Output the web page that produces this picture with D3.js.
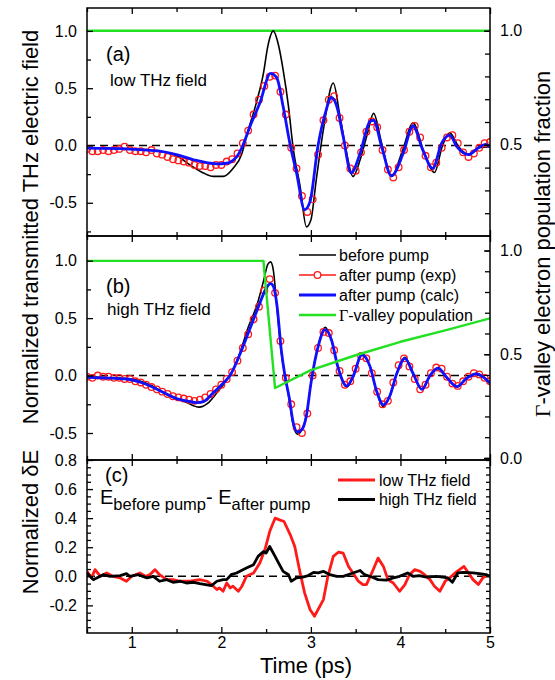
<!DOCTYPE html>
<html>
<head>
<meta charset="utf-8">
<script src="https://cdn.jsdelivr.net/npm/d3@7"></script>
<style>
  html, body { margin: 0; padding: 0; background: #fff; }
  svg { display: block; font-family: "Liberation Sans", Arial, sans-serif; }
</style>
</head>
<body>
<div id="chart"></div>
<script>
// ---- data (time in ps) ----
var timeTicks = [1, 2, 3, 4, 5];
var timeMinor = [0.5, 1.5, 2.5, 3.5, 4.5];

// sampling times of the measured (circle) traces
var tExp = [0.50,0.56,0.62,0.68,0.74,0.80,0.86,0.92,0.98,1.04,1.10,1.16,1.22,1.28,1.34,1.40,1.46,1.52,1.58,1.64,
  1.70,1.76,1.82,1.88,1.94,2.00,2.06,2.12,2.18,2.24,2.30,2.36,2.42,2.48,2.54,2.60,2.66,2.72,2.78,2.84,
  2.90,2.96,3.02,3.08,3.14,3.20,3.26,3.32,3.38,3.44,3.50,3.56,3.62,3.68,3.74,3.80,3.86,3.92,3.98,4.04,
  4.10,4.16,4.22,4.28,4.34,4.40,4.46,4.52,4.58,4.64,4.70,4.76,4.82,4.88,4.94,5.00];

// (a) low THz field
var beforeA = [[0.5,-0.02],[1.0,-0.03],[1.3,-0.05],[1.5,-0.09],[1.65,-0.17],[1.8,-0.24],[1.91,-0.27],[2.02,-0.27],
  [2.13,-0.2],[2.23,-0.07],[2.28,0.08],[2.39,0.37],[2.47,0.63],[2.52,0.87],[2.58,1.0],[2.64,0.87],[2.69,0.66],
  [2.75,0.34],[2.8,-0.01],[2.88,-0.36],[2.95,-0.71],[3.0,-0.65],[3.06,-0.3],[3.14,0.14],[3.25,0.545],[3.32,0.28],
  [3.4,-0.07],[3.47,-0.27],[3.55,-0.125],[3.63,0.1],[3.7,0.28],[3.79,0.02],[3.9,-0.27],[4.02,-0.05],[4.14,0.195],
  [4.26,-0.05],[4.38,-0.236],[4.47,0.0],[4.55,0.11],[4.65,-0.01],[4.76,-0.08],[4.88,-0.02],[5.0,-0.01]];
var expA = [-0.03,-0.05,-0.05,-0.04,-0.05,-0.04,-0.03,-0.01,-0.04,-0.05,-0.05,-0.06,-0.04,-0.07,-0.08,-0.10,-0.12,-0.13,-0.14,-0.15,
  -0.17,-0.18,-0.18,-0.19,-0.17,-0.17,-0.14,-0.12,-0.07,0.02,0.13,0.27,0.40,0.52,0.60,0.61,0.47,0.27,-0.02,-0.20,
  -0.44,-0.58,-0.47,-0.08,0.22,0.40,0.43,0.24,0.00,-0.20,-0.22,-0.06,0.12,0.21,0.16,-0.04,-0.21,-0.28,-0.19,-0.04,
  0.12,0.17,0.07,-0.09,-0.19,-0.15,-0.02,0.07,0.09,0.02,-0.06,-0.10,-0.07,-0.02,0.02,0.03];
var calcA = [[0.5,-0.023],[0.94,-0.03],[1.31,-0.05],[1.5,-0.08],[1.69,-0.125],[1.95,-0.16],[2.06,-0.155],[2.17,-0.1],
  [2.24,0],[2.32,0.166],[2.43,0.37],[2.55,0.63],[2.62,0.59],[2.69,0.34],[2.77,0],[2.84,-0.24],[2.93,-0.56],[2.99,-0.49],
  [3.08,0],[3.16,0.28],[3.23,0.42],[3.29,0.34],[3.36,0.08],[3.45,-0.24],[3.55,-0.067],[3.66,0.21],[3.7,0.22],[3.79,-0.01],
  [3.9,-0.265],[4.03,-0.07],[4.14,0.17],[4.25,-0.04],[4.36,-0.2],[4.46,0.02],[4.55,0.09],[4.63,-0.01],[4.76,-0.08],
  [4.87,-0.02],[4.95,0.01],[5.0,-0.015]];
var popA = [[0.5,1.0],[5.0,1.0]];

// (b) high THz field
var beforeB = [[0.5,-0.01],[0.8,-0.02],[1.0,-0.03],[1.2,-0.08],[1.4,-0.17],[1.6,-0.23],[1.75,-0.275],[1.85,-0.24],
  [1.95,-0.15],[2.05,-0.05],[2.12,0.03],[2.2,0.18],[2.3,0.42],[2.4,0.62],[2.47,0.82],[2.52,0.97],[2.55,0.99],[2.58,0.92],
  [2.62,0.6],[2.67,0.2],[2.71,0.0],[2.76,-0.22],[2.8,-0.42],[2.85,-0.51],[2.9,-0.47],[2.95,-0.35],[3.0,-0.07],[3.08,0.25],
  [3.16,0.42],[3.23,0.31],[3.3,0.08],[3.4,-0.1],[3.47,-0.01],[3.57,0.19],[3.66,0.08],[3.73,-0.13],[3.81,-0.27],[3.88,-0.18],
  [3.96,0.02],[4.05,0.16],[4.14,0.02],[4.24,-0.12],[4.33,0],[4.42,0.07],[4.51,-0.01],[4.63,-0.1],[4.74,-0.02],[4.85,0.02],
  [4.94,-0.02],[5.0,-0.06]];
var expB = [-0.01,-0.02,0.00,-0.01,-0.01,-0.02,-0.02,-0.03,-0.03,-0.05,-0.06,-0.08,-0.10,-0.12,-0.14,-0.16,-0.18,-0.19,-0.20,-0.21,
  -0.22,-0.21,-0.19,-0.16,-0.12,-0.08,-0.03,0.03,0.13,0.24,0.36,0.49,0.60,0.74,0.84,0.72,0.30,-0.02,-0.25,-0.45,
  -0.50,-0.33,0.00,0.24,0.38,0.37,0.22,0.04,-0.08,-0.05,0.06,0.17,0.15,0.02,-0.14,-0.25,-0.22,-0.06,0.09,0.15,
  0.08,-0.03,-0.12,-0.08,0.02,0.07,0.06,-0.01,-0.07,-0.09,-0.05,-0.01,0.02,0.01,-0.02,-0.05];
var calcB = [[0.5,-0.015],[0.76,-0.023],[0.94,-0.03],[1.13,-0.067],[1.31,-0.13],[1.5,-0.2],[1.61,-0.22],[1.72,-0.235],
  [1.8,-0.226],[1.91,-0.15],[2.02,-0.067],[2.1,0.006],[2.21,0.19],[2.32,0.41],[2.43,0.63],[2.49,0.745],[2.55,0.8],
  [2.58,0.78],[2.62,0.62],[2.67,0.22],[2.71,0.0],[2.76,-0.2],[2.8,-0.4],[2.85,-0.49],[2.9,-0.47],[2.95,-0.35],[3.0,-0.07],
  [3.08,0.25],[3.16,0.4],[3.23,0.31],[3.3,0.08],[3.4,-0.09],[3.47,-0.01],[3.57,0.18],[3.66,0.08],[3.73,-0.125],
  [3.81,-0.255],[3.88,-0.18],[3.96,0.02],[4.05,0.15],[4.14,0.02],[4.24,-0.12],[4.33,0],[4.42,0.064],[4.51,-0.01],
  [4.63,-0.096],[4.74,-0.023],[4.85,0.015],[4.94,-0.023],[5.0,-0.067]];
var popB = [[0.5,0.95],[2.47,0.95],[2.6,0.337],[3.0,0.423],[3.5,0.495],[4.0,0.56],[4.5,0.615],[5.0,0.673]];

// (c) difference signals
var diffLow = [[0.5,0.034],[0.55,-0.011],[0.59,0.046],[0.65,0],[0.72,0.023],[0.79,0],[0.87,-0.011],[0.94,-0.034],
  [1.0,0],[1.09,0.023],[1.15,0],[1.2,0.011],[1.26,0.046],[1.31,0.011],[1.39,-0.023],[1.46,-0.023],[1.54,-0.034],
  [1.65,-0.034],[1.76,-0.023],[1.84,-0.034],[1.89,-0.057],[1.95,-0.091],[1.98,-0.08],[2.02,-0.103],[2.06,-0.046],
  [2.1,-0.08],[2.13,-0.068],[2.19,-0.103],[2.23,-0.068],[2.28,0],[2.36,0.023],[2.43,0.091],[2.49,0.19],[2.54,0.308],
  [2.6,0.4],[2.65,0.388],[2.7,0.377],[2.77,0.285],[2.82,0.205],[2.88,0.023],[2.93,-0.114],[2.99,-0.228],[3.04,-0.275],
  [3.14,-0.16],[3.19,0],[3.25,0.137],[3.31,0.167],[3.36,0.16],[3.42,0.068],[3.47,0.023],[3.53,-0.034],[3.58,-0.057],
  [3.62,-0.057],[3.68,0.023],[3.75,0.125],[3.81,0.068],[3.86,-0.023],[3.92,-0.046],[3.99,-0.103],[4.05,-0.057],
  [4.1,0.011],[4.16,0.046],[4.22,0.034],[4.27,0.011],[4.33,-0.023],[4.38,-0.068],[4.44,-0.103],[4.5,-0.034],
  [4.55,-0.011],[4.61,0.023],[4.66,0.046],[4.71,0.068],[4.76,0.023],[4.81,-0.023],[4.87,-0.057],[4.92,-0.011],[4.98,0.011]];
var diffHigh = [[0.5,0.023],[0.57,-0.023],[0.68,0.011],[0.76,0],[0.87,0.005],[0.94,0.018],[0.98,0],[1.07,0.011],
  [1.17,-0.011],[1.24,0],[1.31,-0.034],[1.39,-0.023],[1.46,-0.041],[1.54,-0.034],[1.61,-0.046],[1.69,-0.041],
  [1.76,-0.05],[1.84,-0.059],[1.89,-0.064],[1.95,-0.034],[2.02,-0.023],[2.06,-0.023],[2.11,0.011],[2.17,0.023],
  [2.28,0.057],[2.36,0.08],[2.41,0.137],[2.47,0.17],[2.5,0.16],[2.54,0.205],[2.6,0.137],[2.64,0.091],[2.69,0.034],
  [2.75,0.011],[2.78,-0.034],[2.84,-0.011],[2.91,-0.005],[2.97,0.005],[3.03,0.027],[3.08,0.023],[3.14,0.034],
  [3.21,0.011],[3.29,0],[3.36,0],[3.47,0.023],[3.55,0.04],[3.6,0.011],[3.68,-0.005],[3.75,-0.023],[3.84,-0.027],
  [3.92,-0.011],[3.99,0],[4.08,0.023],[4.14,0],[4.21,0.005],[4.29,-0.005],[4.4,0],[4.47,-0.005],[4.53,-0.011],
  [4.58,-0.041],[4.64,0.023],[4.7,0.027],[4.81,0.023],[4.88,0.018],[4.96,0.011],[5.0,0]];

// axis tick values
var fieldMajor = [-0.5, 0, 0.5, 1.0];
var fieldMinor = [-0.75, -0.25, 0.25, 0.75];
var popTicksA = [0.2, 0.3, 0.4, 0.5, 0.6, 0.7, 0.8, 0.9, 1.0];
var popLabelsA = [0.5, 1.0];
var popTicksB = [0, 0.1, 0.2, 0.3, 0.4, 0.5, 0.6, 0.7, 0.8, 0.9, 1.0];
var popLabelsB = [0, 0.5, 1.0];
var diffMajor = [-0.2, 0, 0.2, 0.4, 0.6, 0.8];
var diffMinor = [-0.35,-0.3,-0.25,-0.15,-0.1,-0.05,0.05,0.1,0.15,0.25,0.3,0.35,0.45,0.5,0.55,0.65,0.7,0.75];

// ---- layout ----
var W = 555, H = 680;
var L = 87, R = 490;
var FONT = '"Liberation Sans", Arial, sans-serif';
var RED = '#ff1a1a', BLUE = '#1010ff', GREEN = '#22e022';

var svg = d3.select('#chart').append('svg').attr('width', W).attr('height', H);

var x = d3.scaleLinear().domain([0.5, 5]).range([L, R]);
var yA = d3.scaleLinear().domain([-0.79, 1.2]).range([236, 8]);
var yA2 = d3.scaleLinear().domain([0.1, 1.1]).range([236, 8]);
var yB = d3.scaleLinear().domain([-0.735, 1.215]).range([460, 236]);
var yB2 = d3.scaleLinear().domain([-0.01, 1.07]).range([460, 236]);
var yC = d3.scaleLinear().domain([-0.39, 0.8]).range([633, 460]);

var fmt1 = function (v) { return v.toFixed(1); };

function axis(gen, tx, ty, vals, size, labels, pad) {
  var g = svg.append('g').attr('transform', 'translate(' + tx + ',' + ty + ')')
    .call(gen.tickValues(vals).tickSize(size).tickSizeOuter(0).tickPadding(pad || 10)
      .tickFormat(labels ? labels : function () { return ''; }));
  g.select('.domain').remove();
  g.attr('font-family', FONT).attr('font-size', 16);
  g.selectAll('line').attr('stroke', '#000').attr('stroke-width', 1.3);
  g.selectAll('text').attr('fill', '#000');
  return g;
}

function panelFrame(top, bottom, y, majors, minors, y2, y2ticks, y2labels, y2minorSize, xLabels) {
  axis(d3.axisTop(x), 0, top, timeTicks, -6, null);
  axis(d3.axisTop(x), 0, top, timeMinor, -4, null);
  axis(d3.axisBottom(x), 0, bottom, timeTicks, -6, xLabels ? d3.format('d') : null, 4);
  axis(d3.axisBottom(x), 0, bottom, timeMinor, -4, null);
  axis(d3.axisLeft(y), L, 0, majors, -6, fmt1);
  axis(d3.axisLeft(y), L, 0, minors, -4, null);
  axis(d3.axisRight(y2), R, 0, y2ticks, -y2minorSize, null);
  if (y2labels) axis(d3.axisRight(y2), R, 0, y2labels, -6, fmt1);
  svg.append('rect').attr('x', L).attr('y', top).attr('width', R - L).attr('height', bottom - top)
    .attr('fill', 'none').attr('stroke', '#000').attr('stroke-width', 1.5);
}

function clip(id, top, bottom) {
  svg.append('clipPath').attr('id', id).append('rect')
    .attr('x', L).attr('y', top).attr('width', R - L).attr('height', bottom - top);
  return svg.append('g').attr('clip-path', 'url(#' + id + ')');
}

function zeroLine(g, y) {
  g.append('line').attr('x1', L).attr('x2', R).attr('y1', y(0)).attr('y2', y(0))
    .attr('stroke', '#000').attr('stroke-width', 1.5).attr('stroke-dasharray', '8,5');
}

function path(g, data, y, color, width, curve) {
  var line = d3.line().x(function (d) { return x(d[0]); }).y(function (d) { return y(d[1]); })
    .curve(curve || d3.curveLinear);
  g.append('path').datum(data).attr('d', line).attr('fill', 'none')
    .attr('stroke', color).attr('stroke-width', width).attr('stroke-linejoin', 'round');
}

function circles(g, vals, y) {
  g.selectAll(null).data(vals).join('circle')
    .attr('cx', function (d, i) { return x(tExp[i]); })
    .attr('cy', function (d) { return y(d); })
    .attr('r', 3.3).attr('fill', 'none').attr('stroke', RED).attr('stroke-width', 1.3);
}

// ---- panel (a) ----
var gA = clip('clipA', 8, 236);
zeroLine(gA, yA);
path(gA, popA, yA2, GREEN, 2.4);
path(gA, beforeA, yA, '#000', 1.6, d3.curveMonotoneX);
circles(gA, expA, yA);
path(gA, calcA, yA, BLUE, 2.8, d3.curveMonotoneX);
panelFrame(8, 236, yA, fieldMajor, fieldMinor, yA2, popTicksA, popLabelsA, 5, false);

// ---- panel (b) ----
var gB = clip('clipB', 236, 460);
zeroLine(gB, yB);
path(gB, beforeB, yB, '#000', 1.6, d3.curveMonotoneX);
circles(gB, expB, yB);
path(gB, calcB, yB, BLUE, 2.8, d3.curveMonotoneX);
path(gB, popB, yB2, GREEN, 2.4, d3.curveLinear);
panelFrame(236, 460, yB, fieldMajor, fieldMinor.filter(function (v) { return v > -0.7; }), yB2, popTicksB, popLabelsB, 5, false);

// ---- panel (c) ----
var gC = clip('clipC', 460, 633);
zeroLine(gC, yC);
path(gC, diffLow, yC, RED, 2.8);
path(gC, diffHigh, yC, '#000', 2.8);
panelFrame(460, 633, yC, diffMajor, diffMinor, yC, diffMinor.concat(diffMajor), null, 4, true);

// ---- text ----
function txt(xp, yp, s, size, anchor) {
  return svg.append('text').attr('x', xp).attr('y', yp).attr('font-family', FONT)
    .attr('font-size', size).attr('text-anchor', anchor || 'start').attr('fill', '#000').text(s);
}

txt(106, 61, '(a)', 20);
txt(110, 86, 'low THz field', 17);
txt(106, 293, '(b)', 20);
txt(107, 315, 'high THz field', 17);
txt(105, 482, '(c)', 20);

var eq = svg.append('text').attr('x', 100).attr('y', 504).attr('font-family', FONT).attr('font-size', 20);
eq.append('tspan').text('E');
eq.append('tspan').attr('font-size', 16.5).attr('dy', 6).text('before pump');
eq.append('tspan').attr('dy', -6).text('- E');
eq.append('tspan').attr('font-size', 16.5).attr('dy', 6).text('after pump');

// legend (b)
var legB = [
  { label: 'before pump', color: '#000', w: 1.6, marker: false },
  { label: 'after pump (exp)', color: RED, w: 1.6, marker: true },
  { label: 'after pump (calc)', color: BLUE, w: 2.8, marker: false },
  { label: '-valley population', color: GREEN, w: 2.4, marker: false, gamma: true }
];
legB.forEach(function (d, i) {
  var yy = 255 + i * 20;
  svg.append('line').attr('x1', 299).attr('x2', 336).attr('y1', yy).attr('y2', yy)
    .attr('stroke', d.color).attr('stroke-width', d.w);
  if (d.marker) {
    svg.append('circle').attr('cx', 317.5).attr('cy', yy).attr('r', 3.3)
      .attr('fill', '#fff').attr('stroke', RED).attr('stroke-width', 1.3);
  }
  var t = svg.append('text').attr('x', 339).attr('y', yy + 5.5).attr('font-family', FONT).attr('font-size', 16);
  if (d.gamma) t.append('tspan').attr('font-family', '"Liberation Serif", serif').text('\u0393');
  t.append('tspan').text(d.label);
});

// legend (c)
var legC = [
  { label: 'low THz field', color: RED },
  { label: 'high THz field', color: '#000' }
];
legC.forEach(function (d, i) {
  var yy = 480 + i * 19.5;
  svg.append('line').attr('x1', 338).attr('x2', 375).attr('y1', yy).attr('y2', yy)
    .attr('stroke', d.color).attr('stroke-width', 2.8);
  txt(379, yy + 5.5, d.label, 16);
});

// axis titles
txt(306, 673, 'Time (ps)', 22, 'middle');
txt(0, 0, 'Normalized transmitted THz electric field', 22, 'middle')
  .attr('transform', 'translate(38,227) rotate(-90)');
txt(0, 0, 'Normalized \u03b4E', 22, 'middle')
  .attr('transform', 'translate(38,522) rotate(-90)');
var rt = svg.append('text').attr('font-family', FONT).attr('font-size', 22).attr('text-anchor', 'middle')
  .attr('transform', 'translate(550,244) rotate(-90)');
rt.append('tspan').attr('font-family', '"Liberation Serif", serif').text('\u0393');
rt.append('tspan').text('-valley electron population fraction');
</script>
</body>
</html>
